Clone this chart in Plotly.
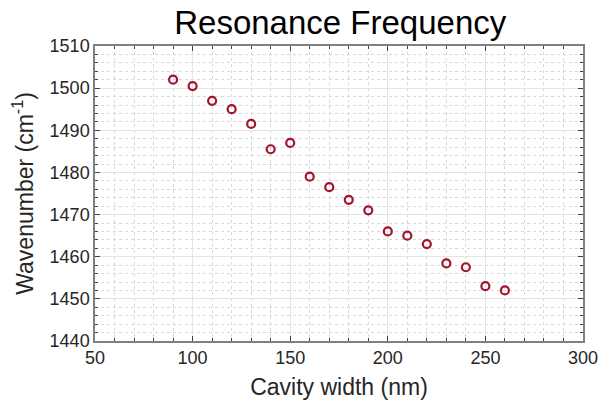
import plotly.graph_objects as go

cavity_width = [90, 100, 110, 120, 130, 140, 150, 160, 170, 180, 190, 200, 210, 220, 230, 240, 250, 260]
wavenumber = [1502.0, 1500.5, 1497.0, 1495.0, 1491.5, 1485.5, 1487.0, 1479.0, 1476.5, 1473.5,
              1471.0, 1466.0, 1465.0, 1463.0, 1458.4, 1457.5, 1453.0, 1452.0]

FONT = "Liberation Sans, Arial"

fig = go.Figure(go.Scatter(
    x=cavity_width, y=wavenumber, mode="markers",
    marker=dict(symbol="circle-open", size=8, color="#A2142F", line=dict(width=2.2, color="#A2142F")),
))

axis_common = dict(
    showline=True, linecolor="#808080", linewidth=1.5, mirror="allticks",
    ticks="inside", ticklen=5, tickcolor="#404040",
    showgrid=True, gridcolor="#e4e4e4", gridwidth=1,
    zeroline=False, automargin=False,
    tickfont=dict(family=FONT, size=18, color="#262626"),
)

fig.update_xaxes(
    range=[50, 300], dtick=50, tick0=50,
    title=dict(text="Cavity width (nm)", font=dict(family=FONT, size=23, color="#262626"), standoff=12),
    minor=dict(dtick=10, showgrid=True, griddash="dot", gridcolor="#d8d8d8", ticks="inside", ticklen=3, tickcolor="#404040"),
    **axis_common,
)
fig.update_yaxes(
    range=[1440, 1510], dtick=10, tick0=1440,
    title=dict(text="Wavenumber (cm<sup>-1</sup>)", font=dict(family=FONT, size=23, color="#262626"), standoff=10),
    minor=dict(dtick=2, showgrid=True, griddash="dot", gridcolor="#d8d8d8", ticks="inside", ticklen=3, tickcolor="#404040"),
    **axis_common,
)

fig.update_layout(
    width=599, height=405,
    margin=dict(l=95, r=16, t=46, b=64),
    plot_bgcolor="white", paper_bgcolor="white",
    showlegend=False,
    title=dict(text="Resonance Frequency", x=0.568, xanchor="center", y=0.945, yanchor="middle",
               font=dict(family=FONT, size=33, color="black")),
)

fig.write_html("out.html")
